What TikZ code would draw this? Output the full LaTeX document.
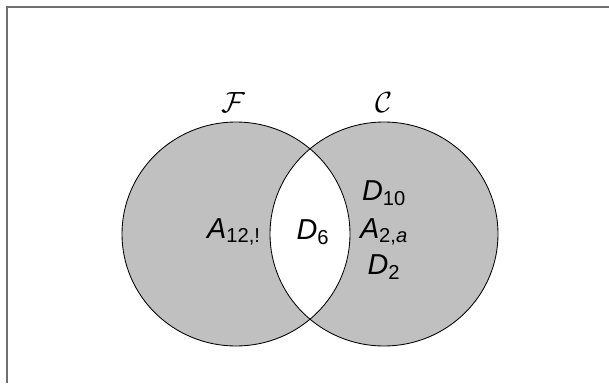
\documentclass[tikz,border=0pt]{standalone}
\usepackage{fontspec}
\setmainfont{Liberation Sans}
\usetikzlibrary{positioning}
\definecolor{setgray}{RGB}{192,192,192}
\definecolor{framegray}{RGB}{112,112,112}
\newcommand{\elem}[2]{\textit{#1}\textsubscript{#2}}

\begin{document}
\begin{tikzpicture}
  \tikzset{
    setline/.style={draw=black, line width=0.6pt},
    elemlabel/.style={inner sep=0pt, font=\fontsize{20.5}{24}\selectfont},
    setname/.style={inner sep=0pt, font=\fontsize{20}{24}\selectfont}
  }
  \useasboundingbox (0,0) rectangle (15.225,9.575);
  % frame (only left and top edge fall inside the page)
  \draw[framegray, line width=1.3pt] (0.175,0) -- (0.175,9.4) -- (15.225,9.4);
  % the two sets, shaded
  \fill[setgray] (5.9,3.725) ellipse [x radius=2.85, y radius=2.8];
  \fill[setgray] (9.6,3.725) ellipse [x radius=2.85, y radius=2.8];
  % blank out the overlap
  \begin{scope}
    \clip (5.9,3.725) ellipse [x radius=2.85, y radius=2.8];
    \fill[white] (9.6,3.725) ellipse [x radius=2.85, y radius=2.8];
  \end{scope}
  \draw[setline] (5.9,3.725) ellipse [x radius=2.85, y radius=2.8];
  \draw[setline] (9.6,3.725) ellipse [x radius=2.85, y radius=2.8];
  % set names
  \node[setname] (fname) at (5.825,7.0) {$\mathcal{F}$};
  \node[setname] (cname) at (9.6,7.0) {$\mathcal{C}$};
  % elements
  \node[elemlabel] (a12) at (5.85,3.775) {\elem{A}{12,!}};
  \node[elemlabel] (d6) at (7.825,3.775) {\elem{D}{6}};
  \node[elemlabel] (d10) at (9.6,4.75) {\elem{D}{10}};
  \node[elemlabel] (a2a) at (9.6,3.775) {\elem{A}{2,\textit{a}}};
  \node[elemlabel] (d2) at (9.6,2.9) {\elem{D}{2}};
\end{tikzpicture}
\end{document}
